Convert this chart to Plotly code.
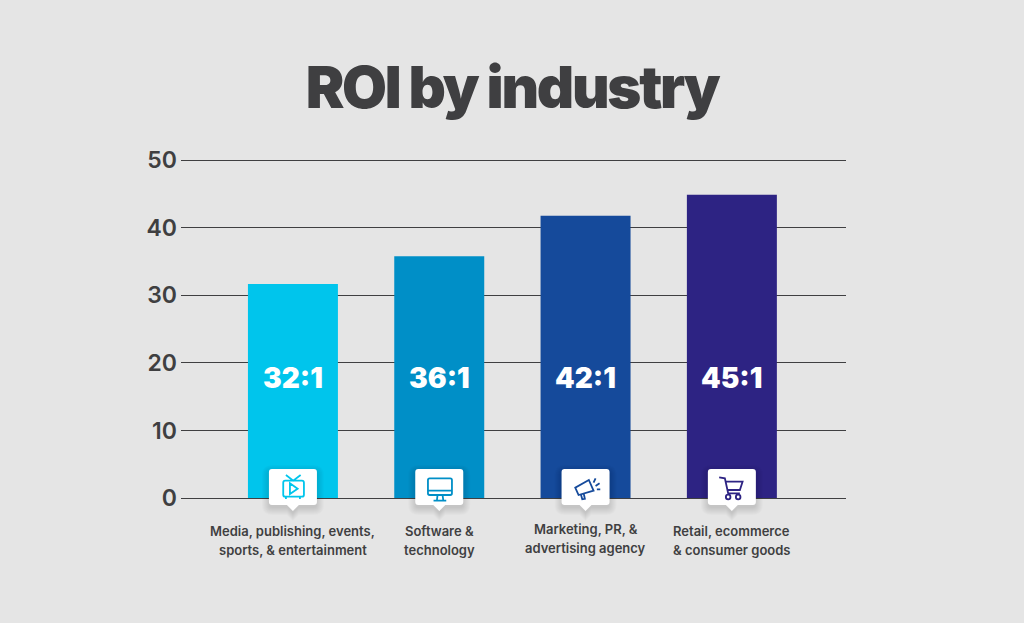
"""
ROI by industry: bar chart with icon callouts under each bar
"""
import plotly.graph_objects as go

CATEGORIES = [
    "Media, publishing, events,<br>sports, & entertainment",
    "Software &<br>technology",
    "Marketing, PR, &<br>advertising agency",
    "Retail, ecommerce<br>& consumer goods",
]
ROI_VALUES = [31.7, 35.8, 41.8, 44.9]
ROI_LABELS = ["32:1", "36:1", "42:1", "45:1"]
BAR_COLORS = ["#00C5EC", "#008FC7", "#154A9B", "#2D2383"]
Y_TICKS = [0, 10, 20, 30, 40, 50]

BG = "#E5E5E5"
INK = "#3F3F41"
POSITIONS = list(range(len(CATEGORIES)))

# Иконки: контуры в пикселях от основания столбца (y вверх)
ICONS = [
    "M-9.7 15.3Q-9.7 17.3 -7.7 17.3L9 17.3Q11 17.3 11 15.3L11 3.3Q11 1.3 9 1.3L-7.7 1.3Q-9.7 1.3 -9.7 3.3Z"
    "M-7 23L0.3 17.3L7.7 23M-3 14.7L4.7 9.3L-3 4ZM-7 1.3L-7 -1M7 1.3L7 -1",
    "M-11.3 18Q-11.3 19.7 -9.6 19.7L11 19.7Q12.7 19.7 12.7 18L12.7 4.7Q12.7 3 11 3L-9.6 3Q-11.3 3 -11.3 4.7Z"
    "M-11.3 7.3L12.7 7.3M-1.7 3L-2.3 -2M3.3 3L4 -2M-5.7 -2.7L7 -2.7",
    "M3.3 18L8 7.3L-7 3L-10.3 10.3ZM-4.7 3.7L-3.3 -1.3L-0.7 -0.7L-2 5.3"
    "M8 15.3L10 19.7M10 12L14 14.7M11.3 8.7L14.7 8.7",
    "M-12.7 20.7L-7 19.7L-3.7 4.7L8 4.7M-6.3 16.3L10.7 16.3L8 8L-4.7 8"
    "M-6 1Q-6 3.3 -3.7 3.3Q-1.4 3.3 -1.4 1Q-1.4 -1.3 -3.7 -1.3Q-6 -1.3 -6 1Z"
    "M4 1Q4 3.3 6.3 3.3Q8.6 3.3 8.6 1Q8.6 -1.3 6.3 -1.3Q4 -1.3 4 1Z",
]


def callout_path(grow=0.0, dy=0.0):
    """Белая плашка с хвостиком вниз, в пикселях от основания столбца."""
    left, right = -24 - grow, 24 + grow
    top, bottom = 29 + grow + dy, -7 - grow + dy
    r = 3 + grow
    return (
        f"M{left + r} {top}L{right - r} {top}Q{right} {top} {right} {top - r}"
        f"L{right} {bottom + r}Q{right} {bottom} {right - r} {bottom}"
        f"L6 {bottom}L0 {bottom - 6}L-6 {bottom}"
        f"L{left + r} {bottom}Q{left} {bottom} {left} {bottom + r}"
        f"L{left} {top - r}Q{left} {top} {left + r} {top}Z"
    )


fig = go.Figure(
    go.Bar(
        x=POSITIONS,
        y=ROI_VALUES,
        width=0.615,
        marker=dict(color=BAR_COLORS, line=dict(width=0)),
        hoverinfo="skip",
    )
)

for pos, label, color, icon, text in zip(POSITIONS, ROI_LABELS, BAR_COLORS, ICONS, CATEGORIES):
    # yref=paper: иначе фигуры обрезаются по области графика и низ плашки пропадает
    pixel_shape = dict(
        type="path", xref="x", yref="paper", xsizemode="pixel", ysizemode="pixel",
        xanchor=pos, yanchor=0, layer="above",
    )
    # Мягкая тень из нескольких полупрозрачных копий
    for grow in (7, 6, 5, 4, 3, 2, 1, 0):
        fig.add_shape(path=callout_path(grow, -3), fillcolor="rgba(0,0,0,0.016)",
                      line_width=0, **pixel_shape)
    fig.add_shape(path=callout_path(), fillcolor="white", line_width=0, **pixel_shape)
    fig.add_shape(path=icon, line=dict(color=color, width=1.8), **pixel_shape)
    fig.add_annotation(
        x=pos, y=17.7, text=label, showarrow=False,
        font=dict(family="Inter, sans-serif", size=28, color="white", weight=900),
    )
    # Подписи по строкам: в оригинале интервал шире, чем даёт <br>
    base = 33 if pos != 2 else 31
    for i, line in enumerate(text.split("<br>")):
        fig.add_annotation(
            x=pos, y=0, yshift=-(base + 19 * i), text=line,
            showarrow=False, yanchor="middle",
            font=dict(family="Inter, sans-serif", size=13, color=INK, weight=600),
        )

fig.update_layout(
    width=1024,
    height=623,
    margin=dict(l=181, r=178, t=157, b=125),
    paper_bgcolor=BG,
    plot_bgcolor=BG,
    showlegend=False,
    title=dict(
        text="ROI by industry", x=0.5, xanchor="center", y=1 - 88 / 623, yanchor="middle",
        font=dict(family="Inter, sans-serif", size=58, color=INK, weight=900),
    ),
    xaxis=dict(range=[-0.765, 3.78], showgrid=False, zeroline=False, showticklabels=False, ticks=""),
    yaxis=dict(
        range=[0, 50.5],
        tickvals=Y_TICKS,
        showgrid=True,
        gridcolor=INK,
        gridwidth=1,
        zeroline=True,
        zerolinecolor=INK,
        zerolinewidth=1,
        ticks="",
        ticklabelstandoff=3,
        tickfont=dict(family="Inter, sans-serif", size=23, color=INK, weight=600),
    ),
)

fig.write_html(
    "out.html",
    config=dict(displayModeBar=False),
    post_script=(
        "document.body.style.margin='0';"
        "document.body.style.background='" + BG + "';"
        "document.querySelectorAll('.gtitle').forEach(t=>t.style.letterSpacing='-2.3px');"
    ),
)
